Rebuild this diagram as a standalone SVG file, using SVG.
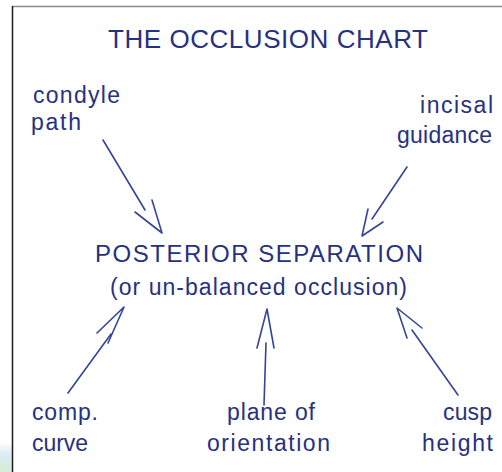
<svg xmlns="http://www.w3.org/2000/svg" width="502" height="472" viewBox="0 0 502 472">
<defs>
<style>
.t{font-family:"Liberation Sans","DejaVu Sans",sans-serif;fill:#26317f;}
.title{font-size:26px;}
.main{font-size:24px;}
.sub{font-size:23px;}
.lbl{font-size:23px;}
.c line,.c polyline{stroke:#34449a;stroke-width:1.6;fill:none;stroke-linecap:round;stroke-linejoin:round;}
</style>
<linearGradient id="blob" x1="0" y1="0" x2="0" y2="1">
<stop offset="0" stop-color="#ffffff"/>
<stop offset="0.4" stop-color="#dcecf4"/>
<stop offset="1" stop-color="#d8ecd8"/>
</linearGradient>
</defs>
<rect width="502" height="472" fill="#ffffff"/>
<rect x="0" y="442" width="12" height="30" fill="url(#blob)"/>
<line x1="12" y1="6.5" x2="502" y2="6.5" stroke="#8a8a8a" stroke-width="1.5"/>
<line x1="12.5" y1="6" x2="12.5" y2="472" stroke="#1e1e1e" stroke-width="1.5"/>

<g id="title"><text class="t title" x="108" y="48" textLength="320" lengthAdjust="spacing">THE OCCLUSION CHART</text></g>

<g id="center">
<text class="t main" x="95" y="262" textLength="328" lengthAdjust="spacing">POSTERIOR SEPARATION</text>
<text class="t sub" x="110" y="295" textLength="297" lengthAdjust="spacing">(or un-balanced occlusion)</text>
</g>

<g id="condyle"><text class="t lbl" x="33" y="103" textLength="87" lengthAdjust="spacing">condyle</text><text class="t lbl" x="31" y="130" textLength="50" lengthAdjust="spacing">path</text></g>
<g id="incisal"><text class="t lbl" x="420" y="113" textLength="73" lengthAdjust="spacing">incisal</text><text class="t lbl" x="397" y="143" textLength="95" lengthAdjust="spacing">guidance</text></g>
<g id="comp"><text class="t lbl" x="32" y="420" textLength="66" lengthAdjust="spacing">comp.</text><text class="t lbl" x="32" y="451" textLength="56" lengthAdjust="spacing">curve</text></g>
<g id="plane"><text class="t lbl" x="227" y="420" textLength="88" lengthAdjust="spacing">plane of</text><text class="t lbl" x="207" y="451" textLength="123" lengthAdjust="spacing">orientation</text></g>
<g id="cusp"><text class="t lbl" x="443" y="420" textLength="49" lengthAdjust="spacing">cusp</text><text class="t lbl" x="422" y="451" textLength="71" lengthAdjust="spacing">height</text></g>

<g id="connectors" class="c">
<line x1="103" y1="140" x2="145" y2="210"/>
<polyline points="135,212 162,233 152,200"/>
<line x1="407" y1="167" x2="372" y2="219"/>
<polyline points="368,209 362,236 383,222"/>
<line x1="68" y1="393" x2="111" y2="334"/>
<polyline points="97,333 124,307 108,343"/>
<line x1="264" y1="405" x2="266" y2="343"/>
<polyline points="257,348 267,309 274,348"/>
<line x1="458" y1="395" x2="412" y2="330"/>
<polyline points="407,338 397,308 422,328"/>
</g>
</svg>
